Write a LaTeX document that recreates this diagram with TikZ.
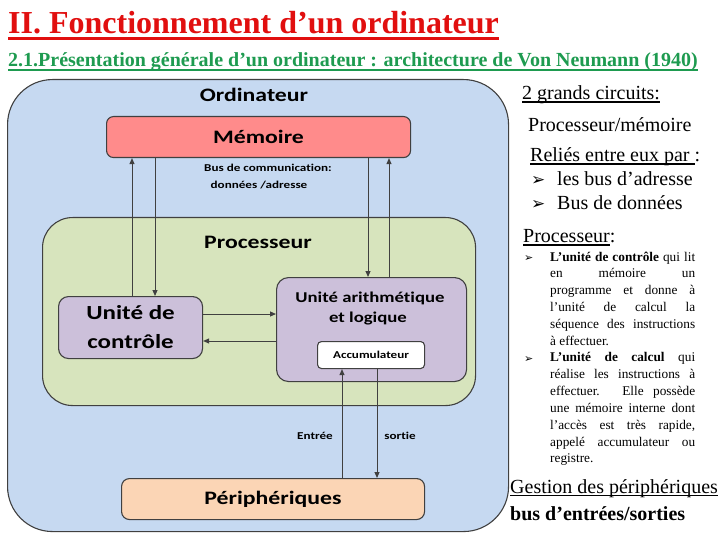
\documentclass[tikz,border=0pt]{standalone}
\usepackage{fontspec}
\setmainfont{Liberation Serif}
\newfontfamily\dgf[FakeStretch=1.25,Ligatures=CommonOff]{Carlito}
\newfontfamily\bulf{DejaVu Sans}
\usetikzlibrary{arrows.meta}
\definecolor{ordfill}{HTML}{C6D9F1}
\definecolor{memfill}{HTML}{FF8B8B}
\definecolor{procfill}{HTML}{D7E4BD}
\definecolor{unitfill}{HTML}{CCC0DA}
\definecolor{perifill}{HTML}{FBD5B5}
\definecolor{lc}{HTML}{404040}
\definecolor{titred}{RGB}{225,15,15}
\definecolor{subgreen}{RGB}{30,155,80}
\newcommand\myul[3]{\setbox0=\hbox{#3}\rlap{\rule[#1]{\wd0}{#2}}\box0}
\begin{document}
\begin{tikzpicture}[x=1pt,y=-1pt,
  box/.style={draw=lc, line width=1.1pt, anchor=north west, inner sep=0pt, align=center},
  arr/.style={draw=lc, line width=1pt, -{Triangle[length=6pt,width=5pt]}},
  tx/.style={anchor=base west, inner sep=0pt},
  dl/.style={anchor=base, inner sep=0pt},
  big/.style={font=\fontsize{20}{24}\selectfont}]
\useasboundingbox (0,0) rectangle (720,540);
% titles
\node[tx, text=titred, font=\bfseries\fontsize{32}{38}\selectfont] (title) at (8,34)
  {\myul{-6pt}{3pt}{II. Fonctionnement d’un ordinateur}};
\node[tx, text=subgreen, font=\bfseries\fontsize{20}{24}\selectfont] (sub) at (8,67)
  {\myul{-3.6pt}{1.8pt}{2.1.Présentation générale d'un ordinateur : architecture de Von Neumann (1940)}};
% diagram boxes
\node[box, fill=ordfill, minimum width=501pt, minimum height=452pt, rounded corners=45pt] (ord) at (7,79) {};
\node[dl, font=\dgf\bfseries\fontsize{19}{22}\selectfont] (ordt) at (254,102) {Ordinateur};
\node[box, fill=memfill, minimum width=304pt, minimum height=41pt, rounded corners=7pt,
  font=\dgf\bfseries\fontsize{19}{22}\selectfont] (mem) at (106,116) {Mémoire};
\node[dl, font=\dgf\bfseries\fontsize{10.5}{12}\selectfont] (bus1) at (268,172) {Bus de communication:};
\node[dl, font=\dgf\bfseries\fontsize{10.5}{12}\selectfont] (bus2) at (259,189) {données /adresse};
\node[box, fill=procfill, minimum width=433pt, minimum height=188pt, rounded corners=30pt] (proc) at (42,217) {};
\node[dl, font=\dgf\bfseries\fontsize{19}{22}\selectfont] (proct) at (258,248) {Processeur};
\node[box, fill=unitfill, minimum width=144pt, minimum height=62pt, rounded corners=10pt,
  font=\dgf\bfseries\fontsize{20}{29}\selectfont] (uc) at (58,296) {Unité de\\contrôle};
\node[box, fill=unitfill, minimum width=190pt, minimum height=104pt, rounded corners=12pt] (ual) at (276,277) {};
\node[dl, font=\dgf\bfseries\fontsize{15}{18}\selectfont] (ualt1) at (370,302) {Unité arithmétique};
\node[dl, font=\dgf\bfseries\fontsize{15}{18}\selectfont] (ualt2) at (368,322) {et logique};
\node[box, fill=white, minimum width=107pt, minimum height=27pt, rounded corners=4pt,
  font=\dgf\bfseries\fontsize{10.5}{12}\selectfont] (acc) at (317,341) {Accumulateur};
\node[box, fill=perifill, minimum width=303pt, minimum height=41pt, rounded corners=8pt,
  font=\dgf\bfseries\fontsize{19}{22}\selectfont] (peri) at (121,478) {Périphériques};
\node[dl, font=\dgf\bfseries\fontsize{10.5}{12}\selectfont] (ent) at (315,439) {Entrée};
\node[dl, font=\dgf\bfseries\fontsize{10.5}{12}\selectfont] (sor) at (400,439) {sortie};
% connector guides
\coordinate (xa) at (132,0);
\coordinate (xb) at (155,0);
\coordinate (xc) at (368,0);
\coordinate (xd) at (389,0);
\coordinate (xe) at (342,0);
\coordinate (xf) at (377,0);
\coordinate (ya) at (0,314);
\coordinate (yb) at (0,341);
\draw[arr] (uc.north -| xa) -- (mem.south -| xa);
\draw[arr] (mem.south -| xb) -- (uc.north -| xb);
\draw[arr] (mem.south -| xc) -- (ual.north -| xc);
\draw[arr] (ual.north -| xd) -- (mem.south -| xd);
\draw[arr] (uc.east |- ya) -- (ual.west |- ya);
\draw[arr] (ual.west |- yb) -- (uc.east |- yb);
\draw[arr] (peri.north -| xe) -- (acc.south -| xe);
\draw[arr] (acc.south -| xf) -- (peri.north -| xf);
% right column
\node[tx, big] (r1) at (522,100) {\myul{-2.6pt}{1.1pt}{2 grands circuits:}};
\node[tx, big] (r2) at (528,132) {Processeur/mémoire};
\node[tx, big] (r3) at (530,162) {\myul{-2.6pt}{1.1pt}{Reliés entre eux par }:};
\node[tx, font=\bulf\fontsize{17}{20}\selectfont] (b1) at (531,186) {➢};
\node[tx, big] (r4) at (557,186) {les bus d’adresse};
\node[tx, font=\bulf\fontsize{17}{20}\selectfont] (b2) at (531,210) {➢};
\node[tx, big] (r5) at (557,210) {Bus de données};
\node[tx, big] (r6) at (523,243) {\myul{-2.6pt}{1.1pt}{Processeur}:};
\node[tx, font=\bulf\fontsize{11}{13}\selectfont] (b3) at (524,261) {➢};
\node[tx, font=\bulf\fontsize{11}{13}\selectfont] (b4) at (524,362) {➢};
\node[tx] (par) at (550,261) {\parbox[t]{145pt}{\fontsize{13.3}{16.83}\selectfont
\textbf{L'unité de contrôle} qui lit\linebreak
en mémoire un\linebreak
programme et donne à\linebreak
l'unité de calcul la\linebreak
séquence des instructions\linebreak
à effectuer.\par
\textbf{L'unité de calcul} qui\linebreak
réalise les instructions à\linebreak
effectuer. Elle possède\linebreak
une mémoire interne dont\linebreak
l'accès est très rapide,\linebreak
appelé accumulateur ou\linebreak
registre.\par}};
\node[tx, big] (r7) at (510,493) {\myul{-2.6pt}{1.1pt}{Gestion des périphériques}};
\node[tx, big, font=\bfseries\fontsize{20}{24}\selectfont] (r8) at (510,520) {bus d'entrées/sorties};
\end{tikzpicture}
\end{document}
